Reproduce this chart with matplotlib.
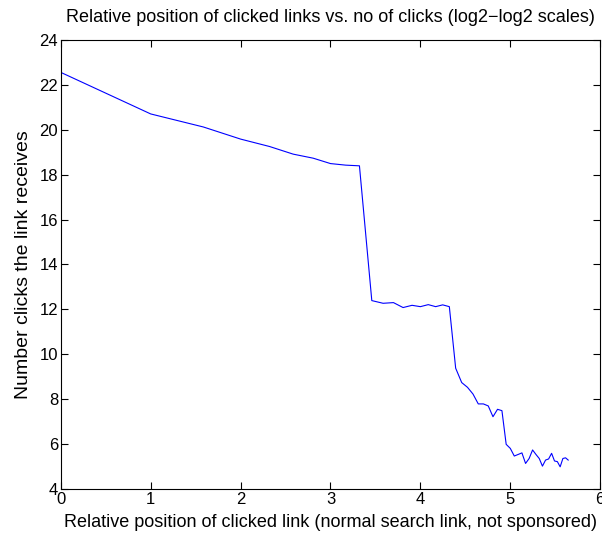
import matplotlib
matplotlib.use("Agg")
import matplotlib.pyplot as plt
import numpy as np

plt.rcParams['font.family'] = ['Liberation Sans', 'DejaVu Sans']

# rank of the clicked link (1 = top result)
positions = list(range(1, 51))

# log2 of the number of clicks each rank receives
log_clicks = [
    22.55, 20.70, 20.12, 19.58, 19.25, 18.91, 18.73, 18.49, 18.42, 18.39,
    12.39, 12.27, 12.30, 12.08, 12.18, 12.12, 12.21, 12.12, 12.20, 12.12,
    9.38, 8.74, 8.53, 8.23, 7.79, 7.79, 7.70, 7.22, 7.55, 7.49,
    5.99, 5.81, 5.47, 5.54, 5.61, 5.14, 5.36, 5.74, 5.54, 5.36,
    5.02, 5.29, 5.34, 5.59, 5.25, 5.22, 4.99, 5.36, 5.39, 5.29,
]

x = np.log2(positions)

fig = plt.figure(figsize=(6.02, 5.38), dpi=100)
ax = fig.add_axes([0.101, 0.091, 0.896, 0.835])
ax.plot(x, log_clicks, color='blue', linewidth=0.8)

ax.set_xlim(0, 6)
ax.set_ylim(4, 24)
ax.set_xticks(range(0, 7))
ax.set_yticks(range(4, 25, 2))
ax.tick_params(direction='in', top=True, right=True, length=5, labelsize=12, pad=2)
for s in ax.spines.values():
    s.set_linewidth(0.8)

ax.set_title('Relative position of clicked links vs. no of clicks (log2\u2212log2 scales)',
             fontsize=13, pad=13)
ax.set_xlabel('Relative position of clicked link (normal search link, not sponsored)',
              fontsize=13, labelpad=5)
ax.set_ylabel('Number clicks the link receives', fontsize=14, labelpad=5)

fig.savefig('out.png', dpi=100)
